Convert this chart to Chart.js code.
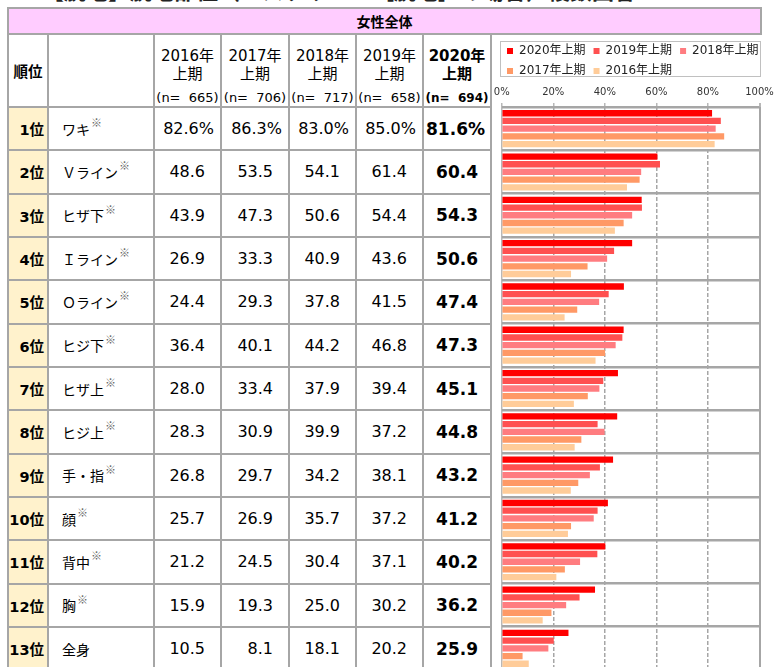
<!DOCTYPE html>
<html lang="ja">
<head>
<meta charset="utf-8">
<title>脱毛部位</title>
<script src="https://cdn.jsdelivr.net/npm/chart.js@4.4.1/dist/chart.umd.min.js"></script>
<style>
  html, body { margin: 0; padding: 0; width: 774px; height: 667px; overflow: hidden; background: #fff; }
  body { position: relative; font-family: "DejaVu Sans", "Noto Sans CJK JP", sans-serif; color: #000; }
  .abs { position: absolute; box-sizing: border-box; }
  .cell { position: absolute; display: flex; align-items: center; white-space: pre; box-sizing: border-box; }
  .cell .note { font-size: 11px; position: relative; top: -6px; color: #666; margin-left: 1px; line-height: 1; }
  #title { position: absolute; left: 42px; top: -22px; font: bold 22px/22px "Noto Sans CJK JP", sans-serif; white-space: nowrap; color: #222; }
  #chartBox { position: absolute; left: 491px; top: 35px; width: 283px; height: 640px; }
</style>
</head>
<body>
<div id="title">【脱毛】脱毛部位（エステサロン［脱毛］の場合）複数回答</div>
<div id="grid"></div>
<div id="chartBox"><canvas id="partsChart" width="283" height="640"></canvas></div>
<script>
// table + chart data
const groupTitle = '女性全体';
const ranks = ['1位', '2位', '3位', '4位', '5位', '6位', '7位', '8位', '9位', '10位', '11位', '12位', '13位'];
const parts = ['ワキ', 'Ｖライン', 'ヒザ下', 'Ｉライン', 'Ｏライン', 'ヒジ下', 'ヒザ上', 'ヒジ上', '手・指', '顔', '背中', '胸', '全身'];
const noteMark = [true, true, true, true, true, true, true, true, true, true, true, true, false];
const headYears = ['2016', '2017', '2018', '2019', '2020'];
const sampleN = [665, 706, 717, 658, 694];
const v2016 = [82.6, 48.6, 43.9, 26.9, 24.4, 36.4, 28.0, 28.3, 26.8, 25.7, 21.2, 15.9, 10.5];
const v2017 = [86.3, 53.5, 47.3, 33.3, 29.3, 40.1, 33.4, 30.9, 29.7, 26.9, 24.5, 19.3, 8.1];
const v2018 = [83.0, 54.1, 50.6, 40.9, 37.8, 44.2, 37.9, 39.9, 34.2, 35.7, 30.4, 25.0, 18.1];
const v2019 = [85.0, 61.4, 54.4, 43.6, 41.5, 46.8, 39.4, 37.2, 38.1, 37.2, 37.1, 30.2, 20.2];
const v2020 = [81.6, 60.4, 54.3, 50.6, 47.4, 47.3, 45.1, 44.8, 43.2, 41.2, 40.2, 36.2, 25.9];
const legendLabels = ['2020年上期', '2019年上期', '2018年上期', '2017年上期', '2016年上期'];
const tickLabels = ['0%', '20%', '40%', '60%', '80%', '100%'];

const tableSeries = [v2016, v2017, v2018, v2019, v2020];
const chartSeries = [v2020, v2019, v2018, v2017, v2016];
const barColors = ['#ff0000', '#ff5050', '#ff7c80', '#ff9966', '#ffcc99'];

// ---- table ----
const grid = document.getElementById('grid');
const LINE = '#a6a6a6';
const colX = [8, 48, 154, 221, 289, 356, 423, 491];
const headTop = 34, bodyTop = 107, rowH = 43.33;
const latin = '"DejaVu Sans", "Noto Sans CJK JP", sans-serif';

function put(cls, x, y, w, h, style, html) {
    const d = document.createElement('div');
    d.className = cls;
    d.style.cssText = `left:${x}px;top:${y}px;width:${w}px;height:${h}px;` + (style || '');
    if (html !== undefined) d.innerHTML = html;
    grid.appendChild(d);
    return d;
}

// pink group header
put('abs', 7, 7, 755, 28, `background:#ffccff;border:2px solid ${LINE};`);
put('cell', 7, 7, 755, 28, 'justify-content:center;font:bold 14px "Noto Sans CJK JP", sans-serif;', groupTitle);

// rank column background
ranks.forEach((r, i) => put('abs', 8, bodyTop + i * rowH, 40, rowH, 'background:#fff2cc;'));

// grid lines
colX.forEach(x => put('abs', x - 1, headTop, 2, 700, `background:${LINE};`));
for (let k = 0; k <= ranks.length; k++) {
    put('abs', 7, bodyTop + k * rowH - 1, 485, 2, `background:${LINE};`);
}

// header row
put('cell', 8, headTop, 40, bodyTop - headTop, `justify-content:center;font:bold 14.5px ${latin};`, '順位');
headYears.forEach((yr, j) => {
    const x0 = colX[j + 2], w = colX[j + 3] - colX[j + 2];
    const b = j === 4 ? 'bold ' : '';
    put('cell', x0, 45, w, 18, `justify-content:center;font:${b}15px ${latin};`, yr + '年');
    put('cell', x0, 63, w, 18, `justify-content:center;font:${b}15px ${latin};`, '上期');
    put('cell', x0, 89, w, 17, `justify-content:center;font:${b}${j === 4 ? 12 : 13}px ${latin};`, `(n=  ${sampleN[j]})`);
});

// body rows
parts.forEach((p, i) => {
    const y = bodyTop + i * rowH;
    put('cell', 8, y, 36, rowH, `justify-content:flex-end;font:bold 14.5px ${latin};`, ranks[i]);
    put('cell', 62, y, 90, rowH, 'font:14px "Noto Sans CJK JP", sans-serif;',
        `<span>${p}</span>` + (noteMark[i] ? '<span class="note">※</span>' : ''));
    tableSeries.forEach((vals, j) => {
        const x0 = colX[j + 2], w = colX[j + 3] - colX[j + 2];
        const last = j === 4;
        const pr = i === 0 ? (last ? 6 : 7) : (last ? 13 : 16);
        const txt = vals[i].toFixed(1) + (i === 0 ? '%' : '');
        put('cell', x0, y, w - pr, rowH, `justify-content:flex-end;font:${last ? 'bold 17px' : '16px'} ${latin};`, txt);
    });
});

// ---- chart ----
// frame around the legend, like the Excel chart
const legendFrame = {
    id: 'legendFrame',
    afterDraw(chart) {
        const lg = chart.legend, c = chart.ctx;
        c.save();
        c.strokeStyle = '#c0c0c0';
        c.lineWidth = 1;
        c.strokeRect(lg.left + 1.5, lg.top + 4.5, chart.chartArea.right - lg.left - 0.5, 35);
        c.restore();
    }
};

const ctx = document.getElementById('partsChart').getContext('2d');
new Chart(ctx, {
    type: 'bar',
    data: {
        labels: parts,
        datasets: chartSeries.map((vals, i) => ({
            label: legendLabels[i],
            data: vals,
            backgroundColor: barColors[i],
            borderWidth: 0,
            categoryPercentage: 0.89,
            barPercentage: 0.82
        }))
    },
    options: {
        indexAxis: 'y',
        responsive: false,
        animation: false,
        layout: { padding: { left: 8, top: 2, right: 0, bottom: 5 } },
        plugins: {
            legend: {
                position: 'top',
                align: 'start',
                labels: {
                    boxWidth: 6,
                    boxHeight: 6,
                    padding: 8,
                    color: '#222',
                    font: { size: 12, family: latin }
                }
            },
            tooltip: { enabled: false }
        },
        scales: {
            x: {
                position: 'top',
                min: 0,
                max: 100,
                ticks: {
                    stepSize: 20,
                    padding: 5,
                    color: '#333',
                    font: { size: 10, family: latin },
                    callback: (v, i) => tickLabels[i]
                },
                grid: {
                    color: ctx => (ctx.tick && ctx.tick.value === 0) ? '#b8b8b8' : '#a6a6a6',
                    lineWidth: ctx => (ctx.tick && ctx.tick.value === 100) ? 2 : 1.5,
                    tickLength: 4,
                    tickColor: '#b8b8b8'
                },
                border: {
                    display: false,
                    dash: ctx => (ctx.tick && ctx.tick.value > 0 && ctx.tick.value < 100) ? [4, 2] : []
                },
                afterFit: s => { s.height = 20; s.paddingLeft = 0; s.paddingRight = 0; }
            },
            y: {
                ticks: { display: false },
                grid: { offset: true, color: '#a6a6a6', lineWidth: 2.5, drawTicks: false },
                border: { display: false },
                afterFit: s => { s.width = 2.7; }
            },
            yRight: {
                type: 'linear',
                position: 'right',
                ticks: { display: false },
                grid: { display: false },
                border: { display: false },
                afterFit: s => { s.width = 14.5; }
            }
        }
    },
    plugins: [legendFrame]
});
</script>
</body>
</html>
